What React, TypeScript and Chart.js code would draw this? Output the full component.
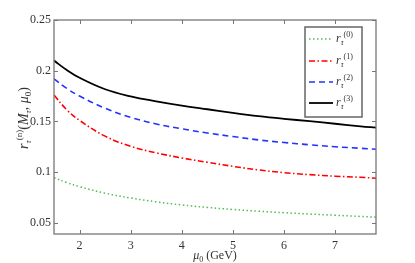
import React, { useEffect, useRef } from "react";
import { Chart, registerables } from "chart.js";

Chart.register(...registerables);

const muValues = [1.5, 1.75, 2, 2.5, 3, 3.5, 4, 4.5, 5, 5.5, 6, 6.5, 7, 7.5, 7.8];
const r0Values = [0.0945, 0.0897, 0.0857, 0.0792, 0.0745, 0.0707, 0.0677, 0.0652, 0.0632, 0.0615, 0.06, 0.0587, 0.0575, 0.0563, 0.0556];
const r1Values = [0.176, 0.1615, 0.151, 0.1355, 0.1255, 0.119, 0.114, 0.1097, 0.1057, 0.1022, 0.0995, 0.0975, 0.096, 0.0949, 0.094];
const r2Values = [0.192, 0.1825, 0.175, 0.163, 0.154, 0.1475, 0.1427, 0.1386, 0.1351, 0.1318, 0.1292, 0.127, 0.125, 0.1235, 0.1226];
const r3Values = [0.21, 0.2007, 0.193, 0.1817, 0.1747, 0.1698, 0.1656, 0.162, 0.1585, 0.1553, 0.1526, 0.1502, 0.1477, 0.1452, 0.1439];
const seriesNames = ["(0)", "(1)", "(2)", "(3)"];
const xTicks = [2, 3, 4, 5, 6, 7];
const yTicks = [0.05, 0.1, 0.15, 0.2, 0.25];
const yTickLabels = ["0.05", "0.1", "0.15", "0.2", "0.25"];

const FONT = "'Liberation Serif', 'DejaVu Serif', serif";

type Seg = { t: string; it?: boolean; sz: number; dy: number };

function drawRich(ctx: CanvasRenderingContext2D, segs: Seg[], x: number, y: number, align: "left" | "center") {
  let total = 0;
  const widths = segs.map((s) => {
    ctx.font = `${s.it ? "italic " : ""}${s.sz}px ${FONT}`;
    const w = ctx.measureText(s.t).width;
    total += w;
    return w;
  });
  let cx = align === "center" ? x - total / 2 : x;
  segs.forEach((s, i) => {
    ctx.font = `${s.it ? "italic " : ""}${s.sz}px ${FONT}`;
    ctx.fillText(s.t, cx, y + s.dy);
    cx += widths[i];
  });
}

function rSegs(n: string): Seg[] {
  return [
    { t: "r", it: true, sz: 12, dy: 0 },
    { t: "τ", it: true, sz: 8, dy: 3 },
    { t: n, sz: 8, dy: -5 },
  ];
}

const colors = ["#55bb55", "#ff0000", "#2233ff", "#000000"];
const dashes = [[1.5, 2.5], [6, 2.5, 1.5, 2.5], [6, 4], []];
const widths = [1.5, 1.6, 1.6, 1.8];

const framePlugin = {
  id: "frame",
  afterDraw(chart: any) {
    const ctx = chart.ctx as CanvasRenderingContext2D;
    const a = chart.chartArea;
    const xs = chart.scales.x;
    const ys = chart.scales.y;
    ctx.save();
    ctx.strokeStyle = "#777";
    ctx.lineWidth = 1.3;
    ctx.strokeRect(a.left, a.top, a.right - a.left, a.bottom - a.top);
    ctx.lineWidth = 1;
    ctx.beginPath();
    xTicks.forEach((v) => {
      const px = Math.round(xs.getPixelForValue(v)) + 0.5;
      ctx.moveTo(px, a.bottom);
      ctx.lineTo(px, a.bottom - 4);
      ctx.moveTo(px, a.top);
      ctx.lineTo(px, a.top + 4);
    });
    yTicks.forEach((v) => {
      const py = Math.round(ys.getPixelForValue(v)) + 0.5;
      ctx.moveTo(a.left, py);
      ctx.lineTo(a.left + 4, py);
      ctx.moveTo(a.right, py);
      ctx.lineTo(a.right - 4, py);
    });
    ctx.stroke();

    // axis titles
    ctx.fillStyle = "#333";
    ctx.textBaseline = "alphabetic";
    drawRich(
      ctx,
      [
        { t: "μ", it: true, sz: 12, dy: 0 },
        { t: "0", sz: 8, dy: 3 },
        { t: " (GeV)", sz: 12, dy: 0 },
      ],
      (a.left + a.right) / 2,
      259,
      "center"
    );
    ctx.save();
    ctx.translate(28, 118);
    ctx.rotate(-Math.PI / 2);
    drawRich(
      ctx,
      [
        { t: "r", it: true, sz: 14, dy: 0 },
        { t: "τ", it: true, sz: 9, dy: 3 },
        { t: "(n)", sz: 9, dy: -6 },
        { t: "(", sz: 14, dy: 0 },
        { t: "M", it: true, sz: 14, dy: 0 },
        { t: "τ", it: true, sz: 9, dy: 3 },
        { t: ", ", sz: 14, dy: 0 },
        { t: "μ", it: true, sz: 14, dy: 0 },
        { t: "0", sz: 9, dy: 3 },
        { t: ")", sz: 14, dy: 0 },
      ],
      0,
      0,
      "center"
    );
    ctx.restore();

    // legend
    const lx = 305, ly = 27, lw = 57, lh = 90;
    ctx.fillStyle = "#fff";
    ctx.fillRect(lx, ly, lw, lh);
    ctx.strokeStyle = "#666";
    ctx.lineWidth = 1.5;
    ctx.strokeRect(lx, ly, lw, lh);
    const rows = [39, 61, 82, 103];
    rows.forEach((ry, i) => {
      ctx.save();
      ctx.strokeStyle = colors[i];
      ctx.lineWidth = widths[i];
      ctx.setLineDash(dashes[i]);
      ctx.beginPath();
      ctx.moveTo(309, ry);
      ctx.lineTo(333, ry);
      ctx.stroke();
      ctx.restore();
      ctx.fillStyle = "#333";
      drawRich(ctx, rSegs(seriesNames[i]), 336, ry + 3, "left");
    });
    ctx.restore();
  },
};

export default function App() {
  const ref = useRef<HTMLCanvasElement>(null);
  useEffect(() => {
    document.body.style.margin = "0";
    const mk = (vals: number[]) => muValues.map((x, i) => ({ x, y: vals[i] }));
    const all = [r0Values, r1Values, r2Values, r3Values];
    const chart = new Chart(ref.current!, {
      type: "line",
      data: {
        datasets: all.map((v, i) => ({
          label: "r" + seriesNames[i],
          data: mk(v),
          borderColor: colors[i],
          borderWidth: widths[i],
          borderDash: dashes[i],
          pointRadius: 0,
          tension: 0.4,
          fill: false,
        })),
      },
      options: {
        animation: false,
        responsive: false,
        maintainAspectRatio: false,
        layout: { padding: { top: 20, right: 39, left: 0, bottom: 0 } },
        plugins: { legend: { display: false }, tooltip: { enabled: false } },
        scales: {
          x: {
            type: "linear",
            min: 1.5,
            max: 7.8,
            afterBuildTicks: (s: any) => {
              s.ticks = xTicks.map((v) => ({ value: v }));
            },
            afterFit: (s: any) => {
              s.height = 29;
            },
            grid: { display: false, drawTicks: false },
            border: { display: false },
            ticks: {
              padding: 5,
              color: "#333",
              font: { family: FONT, size: 12 },
              maxRotation: 0,
              callback: (v: any) => String(v),
            },
          },
          y: {
            type: "linear",
            min: 0.039,
            max: 0.25,
            afterBuildTicks: (s: any) => {
              s.ticks = yTicks.map((v) => ({ value: v }));
            },
            afterFit: (s: any) => {
              s.width = 54;
            },
            grid: { display: false, drawTicks: false },
            border: { display: false },
            ticks: {
              padding: 3,
              color: "#333",
              font: { family: FONT, size: 12 },
              callback: (v: any) => {
                const i = yTicks.findIndex((t) => Math.abs(t - v) < 1e-9);
                return i >= 0 ? yTickLabels[i] : "";
              },
            },
          },
        },
      },
      plugins: [framePlugin],
    });
    return () => chart.destroy();
  }, []);
  return (
    <div style={{ position: "absolute", left: 0, top: 0, width: 415, height: 263, background: "#fff" }}>
      <canvas ref={ref} width={415} height={263} style={{ width: 415, height: 263 }} />
    </div>
  );
}
